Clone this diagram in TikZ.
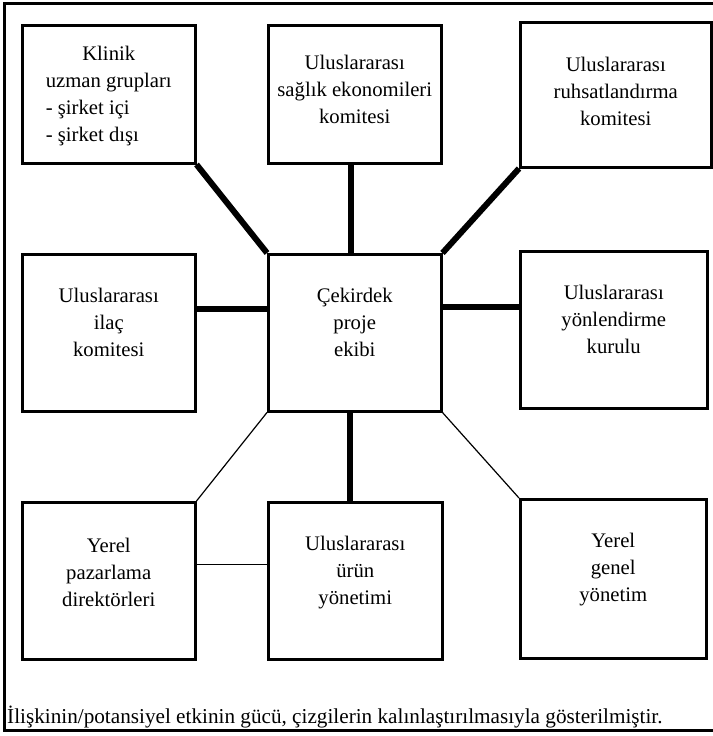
\documentclass[tikz,border=0pt]{standalone}
\usepackage{fontspec}
\setmainfont{Liberation Serif}
\usetikzlibrary{calc}

% stacked lines of a box label; the node's baseline is that of the first line
\newcommand{\stack}[1]{\begin{tabular}[t]{@{}c@{}}#1\end{tabular}}

\begin{document}
\begin{tikzpicture}[x=1pt,y=-1pt,
  unitbox/.style={draw=black, line width=2.5pt, rectangle, inner sep=0pt, anchor=north west},
  boxlabel/.style={anchor=base, inner sep=0pt, font=\fontsize{20.7}{27}\selectfont},
  strong/.style={line width=6pt},
  weak/.style={line width=1.2pt},
  frame/.style={line width=3pt}]

\useasboundingbox (0,0) rectangle (712,736);

% page frame (open on the right)
\draw[frame] (720,3) -- (4,3) -- (4,730) -- (720,730);

% boxes
\node[unitbox, minimum width=173pt, minimum height=138pt] (tl)   at (21,24)   {};
\node[unitbox, minimum width=173pt, minimum height=138pt] (tm)   at (267,24)  {};
\node[unitbox, minimum width=191pt, minimum height=145pt] (tr)   at (519,21)  {};
\node[unitbox, minimum width=173pt, minimum height=157pt] (ml)   at (21,253)  {};
\node[unitbox, minimum width=173pt, minimum height=157pt] (core) at (267,253) {};
\node[unitbox, minimum width=187pt, minimum height=157pt] (mr)   at (519,250) {};
\node[unitbox, minimum width=173pt, minimum height=157pt] (bl)   at (21,501)  {};
\node[unitbox, minimum width=174pt, minimum height=157pt] (bm)   at (267,501) {};
\node[unitbox, minimum width=186pt, minimum height=159pt] (br)   at (519,498) {};

% box labels
\node[boxlabel] (tl-text) at (tl.north |- 0,60)
  {\begin{tabular}[t]{@{}l@{}}\multicolumn{1}{@{}c@{}}{Klinik}\\ uzman grupları\\ - şirket içi\\ - şirket dışı\end{tabular}};
\node[boxlabel] (tm-text) at (tm.north |- 0,69) {\stack{Uluslararası\\ sağlık ekonomileri\\ komitesi}};
\node[boxlabel] (tr-text) at (tr.north |- 0,71) {\stack{Uluslararası\\ ruhsatlandırma\\ komitesi}};
\node[boxlabel] (ml-text) at (ml.north |- 0,302) {\stack{Uluslararası\\ ilaç\\ komitesi}};
\node[boxlabel] (core-text) at (core.north |- 0,302) {\stack{Çekirdek\\ proje\\ ekibi}};
\node[boxlabel] (mr-text) at (mr.north |- 0,299) {\stack{Uluslararası\\ yönlendirme\\ kurulu}};
\node[boxlabel] (bl-text) at (bl.north |- 0,552) {\stack{Yerel\\ pazarlama\\ direktörleri}};
\node[boxlabel] (bm-text) at (bm.north |- 0,550) {\stack{Uluslararası\\ ürün\\ yönetimi}};
\node[boxlabel] (br-text) at (br.north |- 0,547) {\stack{Yerel\\ genel\\ yönetim}};

% strong relations
\draw[strong] (tl.south east) -- (core.north west);
\draw[strong] ([xshift=-3.5pt]tm.south) -- ([xshift=-3.5pt]core.north);
\draw[strong] (tr.south west) -- (core.north east);
\draw[strong] ([yshift=23.5pt]ml.east) coordinate (mlc) -- (mlc -| core.west);
\draw[strong] ([yshift=25.5pt]core.east) coordinate (mrc) -- (mrc -| mr.west);
\draw[strong] ([xshift=-4.5pt]core.south) coordinate (bmc) -- (bmc |- bm.north);

% weak relations
\draw[weak] (core.south west) -- (bl.north east);
\draw[weak] (core.south east) -- (br.north west);
\draw[weak] ([yshift=16.5pt]bl.east) coordinate (blc) -- (blc -| bm.west);

% note
\node[anchor=base west, inner sep=0pt, font=\fontsize{21.2}{25}\selectfont] (note) at (7,723)
  {İlişkinin/potansiyel etkinin gücü, çizgilerin kalınlaştırılmasıyla gösterilmiştir.};
\end{tikzpicture}
\end{document}
